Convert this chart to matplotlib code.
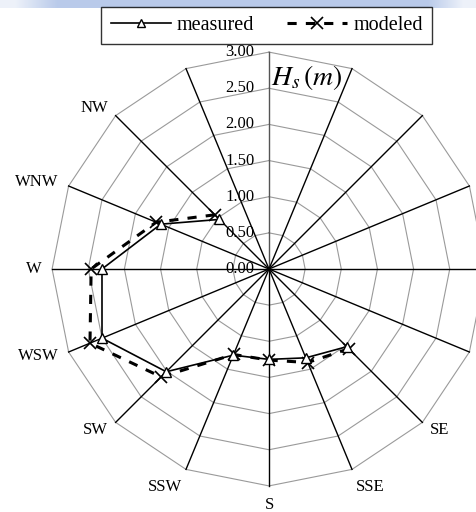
import numpy as np
import matplotlib.pyplot as plt
from matplotlib.lines import Line2D

plt.rcParams['font.family'] = ['Liberation Serif', 'DejaVu Serif']
plt.rcParams['mathtext.fontset'] = 'stix'

# 16 direction sectors, N at the top, clockwise
directions = ['N', 'NNE', 'NE', 'ENE', 'E', 'ESE', 'SE', 'SSE',
              'S', 'SSW', 'SW', 'WSW', 'W', 'WNW', 'NW', 'NNW']
shown_labels = ['SE', 'SSE', 'S', 'SSW', 'SW', 'WSW', 'W', 'WNW', 'NW']
nan = np.nan
# Hs (m) per direction, no data for the empty sectors
measured = [nan, nan, nan, nan, nan, nan, 1.52, 1.33,
            1.25, 1.29, 2.01, 2.50, 2.31, 1.62, 0.97, nan]
modeled = [nan, nan, nan, nan, nan, nan, 1.56, 1.40,
           1.26, 1.28, 2.11, 2.68, 2.46, 1.69, 1.06, nan]
rings = [0.5, 1.0, 1.5, 2.0, 2.5, 3.0]
tick_vals = [0.0, 0.5, 1.0, 1.5, 2.0, 2.5, 3.0]

theta = np.deg2rad(np.arange(len(directions)) * 360 / len(directions))
sx, cy = np.sin(theta), np.cos(theta)

fig = plt.figure(figsize=(4.76, 5.12), dpi=100)

# faded blue band across the top (page header residue)
band = fig.add_axes([0, 1 - 8 / 512, 1, 8 / 512])
xg = np.linspace(0, 1, 476)
alpha = np.clip(np.minimum(xg / 0.12, (1 - xg) / 0.1), 0.25, 1.0)
img = np.zeros((1, 476, 4))
img[..., 0] = 185 / 255
img[..., 1] = 202 / 255
img[..., 2] = 234 / 255
img[..., 3] = alpha
band.imshow(img, aspect='auto')
band.axis('off')

ax = fig.add_axes([0, 0, 1, 1])
scale = 72.3  # px per metre
ax.set_xlim(-269 / scale, (476 - 269) / scale)
ax.set_ylim(-(512 - 269) / scale, 269 / scale)
ax.axis('off')

# polygon grid
for r in rings:
    xs = np.append(r * sx, r * sx[0])
    ys = np.append(r * cy, r * cy[0])
    ax.plot(xs, ys, color='#9a9a9a', lw=0.8, zorder=1)

# spokes
for i in range(len(directions)):
    col = '#555555' if i == 0 else 'black'
    ax.plot([0, 3.0 * sx[i]], [0, 3.0 * cy[i]], color=col, lw=1.0, zorder=2)

# radial tick labels on the N axis
for v in tick_vals:
    ax.text(-0.2, v, '%.2f' % v, ha='right', va='center', fontsize=12,
            zorder=3)

# direction labels
for name in shown_labels:
    i = directions.index(name)
    x, y = 3.0 * sx[i], 3.0 * cy[i]
    off = 0.15
    ha = 'right' if sx[i] < -0.1 else ('left' if sx[i] > 0.1 else 'center')
    if abs(cy[i]) > 0.9:
        va = 'top' if cy[i] < 0 else 'bottom'
    else:
        va = 'center'
    ax.text(x + off * sx[i], y + off * cy[i], name, ha=ha, va=va,
            fontsize=12)

ax.text(0.03, 2.45, r'$H_s\,(m)$', fontsize=20, ha='left', va='bottom')

m = np.array(measured)
md = np.array(modeled)
ax.plot(md * sx, md * cy, color='black', lw=2.2, ls=(0, (3, 3)),
        marker='x', ms=8, mew=1.2, zorder=4)
ax.plot(m * sx, m * cy, color='black', lw=1.2, marker='^', ms=7,
        mfc='white', mec='black', mew=1.0, zorder=5)

h1 = Line2D([], [], color='black', lw=1.2, marker='^', ms=6,
            mfc='white', mec='black')
h2 = Line2D([], [], color='black', lw=2.2, ls=(0, (3, 3)),
            marker='x', ms=8, mew=1.2)
leg = fig.legend([h1, h2], ['measured', 'modeled'], ncol=2,
                 loc='center', bbox_to_anchor=(0.56, 0.950),
                 fontsize=14.5, frameon=True, fancybox=False,
                 handlelength=3.0, columnspacing=1.6, handletextpad=0.3,
                 borderpad=0.45, markerscale=1.0)
leg.get_frame().set_edgecolor('black')
leg.get_frame().set_linewidth(1.0)

fig.savefig('out.png', dpi=100)
